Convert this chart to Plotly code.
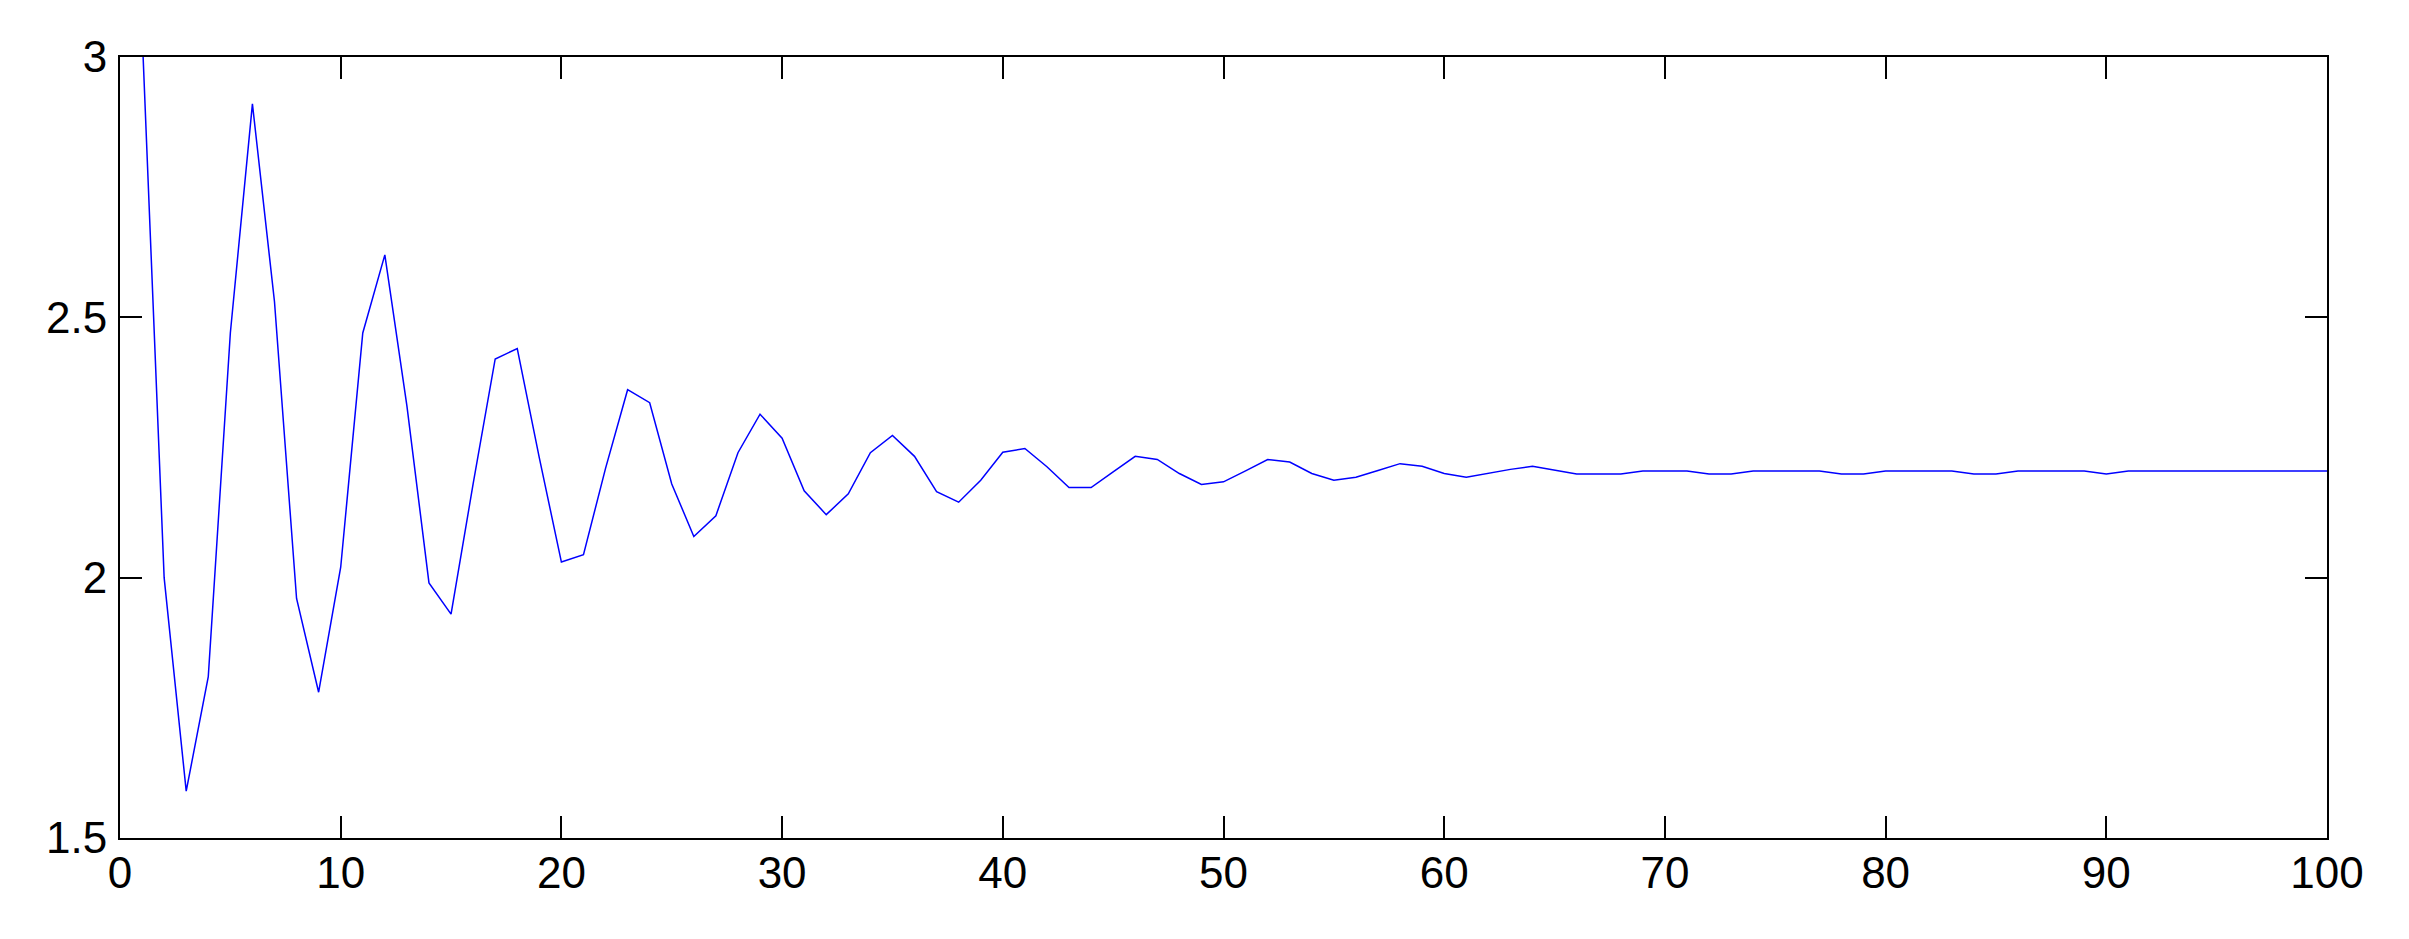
import plotly.graph_objects as go

x_vals = list(range(1, 101))
y_vals = [
    3.05, 2.00, 1.59, 1.81, 2.47, 2.91, 2.53, 1.96, 1.78, 2.02,   # 1-10
    2.47, 2.62, 2.33, 1.99, 1.93, 2.18, 2.42, 2.44, 2.23, 2.03,   # 11-20
    2.044, 2.21, 2.361, 2.336, 2.18, 2.079, 2.119, 2.240, 2.314, 2.268,  # 21-30
    2.167, 2.121, 2.161, 2.240, 2.273, 2.233, 2.165, 2.145, 2.187, 2.241,  # 31-40
    2.248, 2.213, 2.173, 2.173, 2.203, 2.233, 2.227, 2.200, 2.179, 2.184,  # 41-50
    2.205, 2.227, 2.222, 2.200, 2.187, 2.193, 2.206, 2.219, 2.214, 2.200,  # 51-60
    2.193, 2.201, 2.208, 2.214, 2.206, 2.199, 2.199, 2.199, 2.205, 2.205,  # 61-70
    2.205, 2.199, 2.199, 2.205, 2.205, 2.205, 2.205, 2.199, 2.199, 2.205,  # 71-80
    2.205, 2.205, 2.205, 2.199, 2.199, 2.205, 2.205, 2.205, 2.205, 2.199,  # 81-90
    2.205, 2.205, 2.205, 2.205, 2.205, 2.205, 2.205, 2.205, 2.205, 2.205,  # 91-100
]

x_ticks = [0, 10, 20, 30, 40, 50, 60, 70, 80, 90, 100]
y_ticks = [1.5, 2, 2.5, 3]
y_tick_text = ["1.5", "2", "2.5", "3"]

fig = go.Figure()
fig.add_trace(go.Scatter(
    x=x_vals, y=y_vals, mode="lines",
    line=dict(color="#0000FF", width=1.5),
    showlegend=False, hoverinfo="skip",
))

axis_common = dict(
    showline=True, linecolor="black", linewidth=2, mirror="ticks",
    ticks="inside", ticklen=22, tickwidth=2, tickcolor="black",
    showgrid=False, zeroline=False,
    tickfont=dict(family="Liberation Sans, Arial, sans-serif", size=44, color="black"),
)

fig.update_layout(
    width=2401, height=931,
    margin=dict(l=112, r=82, t=49, b=101),
    paper_bgcolor="white", plot_bgcolor="white",
    xaxis=dict(range=[0, 100], tickmode="array", tickvals=x_ticks,
               ticktext=[str(v) for v in x_ticks], ticklabelstandoff=-5, **axis_common),
    yaxis=dict(range=[1.5, 3], tickmode="array", tickvals=y_ticks,
               ticktext=y_tick_text, ticklabelstandoff=2, **axis_common),
)

fig.write_html("out.html")
